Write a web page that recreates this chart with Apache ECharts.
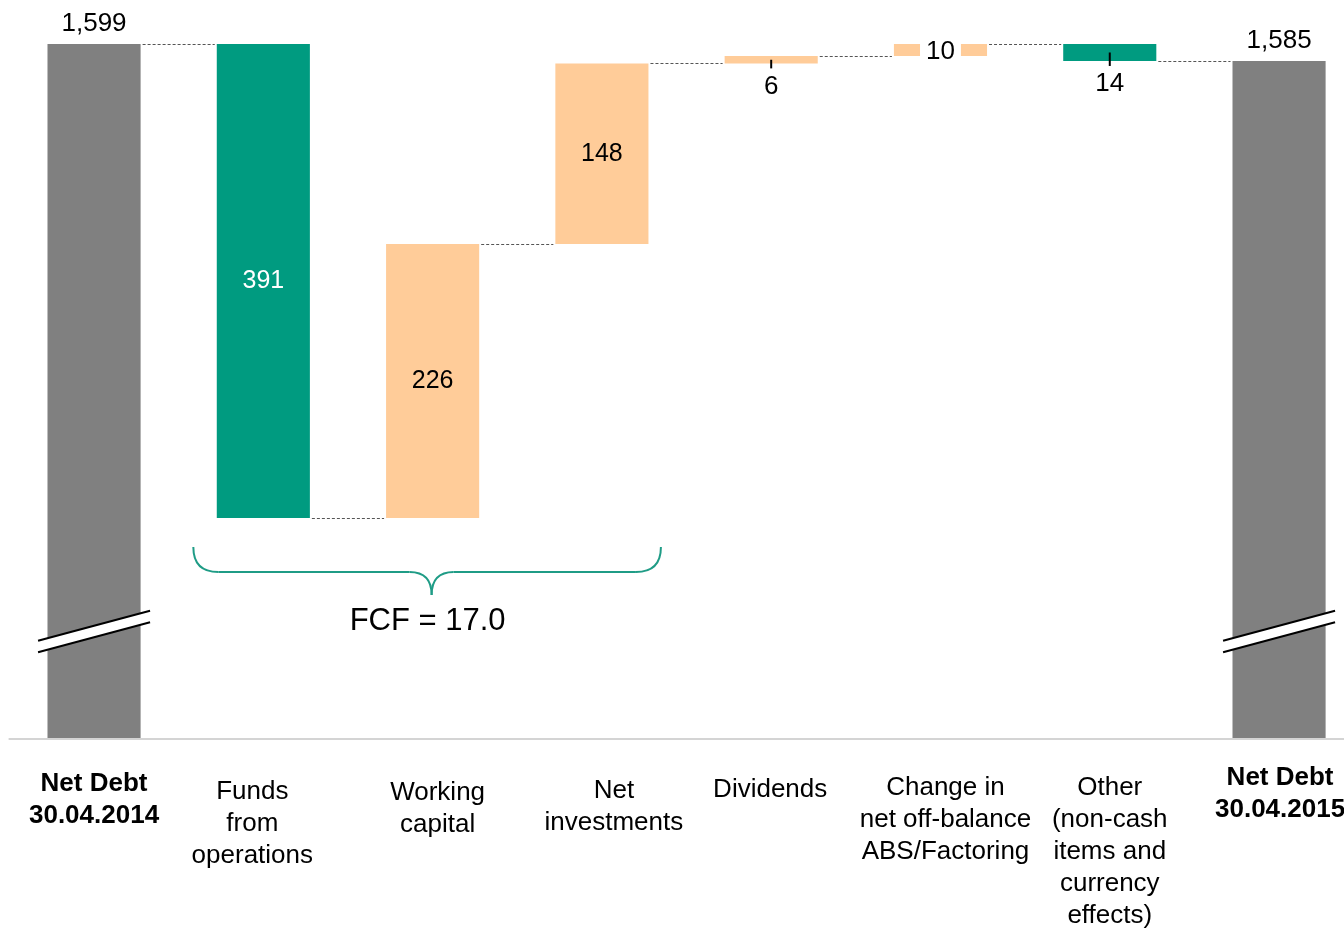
<!DOCTYPE html>
<html>
<head>
<meta charset="utf-8">
<script src="https://cdn.jsdelivr.net/npm/echarts@6/dist/echarts.min.js"></script>
<style>
html,body{margin:0;padding:0;background:#fff;}
#chart{width:1344px;height:928px;}
</style>
</head>
<body>
<div id="chart"></div>
<script>
// ---- data ----
const categories = [
  'Net Debt\n30.04.2014',
  'Funds\nfrom\noperations',
  'Working\ncapital',
  'Net\ninvestments',
  'Dividends',
  'Change in\nnet off-balance\nABS/Factoring',
  'Other\n(non-cash\nitems and\ncurrency\neffects)',
  'Net Debt\n30.04.2015'
];
// start / end level of each bar (null start = total bar from the axis base)
const barStart = [null, 1599, 1208, 1434, 1583, 1589, 1599, null];
const barEnd   = [1599, 1208, 1434, 1583, 1589, 1599, 1585, 1585];
const valueLabels = ['1,599', '391', '226', '148', '6', '10', '14', '1,585'];
const barKinds = ['total', 'decrease', 'increase', 'increase', 'increase', 'increase', 'decrease', 'total'];
const fcfLabel = 'FCF = 17.0';

// ---- layout / style ----
const Y_MIN = 1025.7, Y_MAX = 1599;
const FONT = '"Liberation Sans", Arial, Helvetica, sans-serif';
const colors = { total: '#808080', decrease: '#009B80', increase: '#FFCC99' };
const labelModes = ['above', 'inside', 'inside', 'inside', 'below', 'box', 'below', 'above'];
const boldCats = [true, false, false, false, false, false, false, true];
const labelSpacers = [19, 27, 28, 26, 25, 23, 23, 13];
const labelShiftX = [0, -11, 5, 12, -1, 5, 0, 1];

const rich = {};
categories.forEach((c, i) => {
  rich['s' + i] = { fontSize: 4, lineHeight: labelSpacers[i], fontFamily: FONT, color: 'rgba(0,0,0,0)' };
  const sh = labelShiftX[i];
  rich['t' + i] = {
    fontSize: 26, lineHeight: 32, fontFamily: FONT, color: '#000',
    fontWeight: boldCats[i] ? 'bold' : 'normal',
    padding: [0, sh < 0 ? -2 * sh : 0, 0, sh > 0 ? 2 * sh : 0]
  };
});

const seriesData = categories.map((c, i) => [i, barStart[i] === null ? Y_MIN : barStart[i], barEnd[i]]);

function renderItem(params, api) {
  const i = params.dataIndex;
  const x = api.value(0), a = api.value(1), b = api.value(2);
  const w = api.size([1, 0])[0] * 0.55;
  const pTop = api.coord([x, Math.max(a, b)]);
  const pBot = api.coord([x, Math.min(a, b)]);
  const cx = pTop[0];
  const kind = barKinds[i];
  const children = [];
  children.push({
    type: 'rect',
    shape: { x: cx - w / 2, y: pTop[1], width: w, height: pBot[1] - pTop[1] },
    style: { fill: colors[kind] }
  });
  if (kind === 'total') {
    const yc = pBot[1] - 107.5, hl = 56, dy = 15, th = 5.8;
    children.push({
      type: 'polygon',
      shape: { points: [[cx - hl, yc + dy - th], [cx + hl, yc - dy - th], [cx + hl, yc - dy + th], [cx - hl, yc + dy + th]] },
      style: { fill: '#fff' }
    });
    children.push({ type: 'line', shape: { x1: cx - hl, y1: yc + dy - th, x2: cx + hl, y2: yc - dy - th }, style: { stroke: '#000', lineWidth: 2 } });
    children.push({ type: 'line', shape: { x1: cx - hl, y1: yc + dy + th, x2: cx + hl, y2: yc - dy + th }, style: { stroke: '#000', lineWidth: 2 } });
  }
  // connector to next bar
  if (i < categories.length - 1) {
    const pE = api.coord([x, barEnd[i]]);
    const pN = api.coord([x + 1, barEnd[i]]);
    const yy = Math.round(pE[1]) + 0.5;
    children.push({
      type: 'line',
      shape: { x1: pE[0] + w / 2 + 2, y1: yy, x2: pN[0] - w / 2 - 2, y2: yy },
      style: { stroke: '#555', lineWidth: 1, lineDash: [3, 2] }
    });
  }
  const mode = labelModes[i];
  const tStyle = { text: valueLabels[i], fontSize: 26, fontFamily: FONT, fill: '#000', align: 'center', verticalAlign: 'middle' };
  if (mode === 'above') {
    tStyle.x = cx; tStyle.y = pTop[1] - 20;
  } else if (mode === 'inside') {
    tStyle.x = cx; tStyle.y = (pTop[1] + pBot[1]) / 2;
    tStyle.fontSize = 25;
    if (kind === 'decrease') tStyle.fill = '#fff';
  } else if (mode === 'below') {
    const ym = (pTop[1] + pBot[1]) / 2;
    children.push({ type: 'line', shape: { x1: cx, y1: ym, x2: cx, y2: pBot[1] + 5 }, style: { stroke: '#000', lineWidth: 2 } });
    tStyle.x = cx; tStyle.y = pBot[1] + 23;
  } else if (mode === 'box') {
    tStyle.x = cx; tStyle.y = (pTop[1] + pBot[1]) / 2 + 2;
    tStyle.backgroundColor = '#fff';
    tStyle.padding = [2, 6];
  }
  children.push({ type: 'text', style: tStyle, z2: 10 });
  return { type: 'group', children: children };
}

const chart = echarts.init(document.getElementById('chart'), null, { renderer: 'canvas' });
chart.setOption({
  animation: false,
  backgroundColor: '#fff',
  grid: { left: 9.4, width: 1354.3, top: 44, height: 695, containLabel: false, outerBoundsMode: 'none' },
  xAxis: {
    type: 'category',
    data: categories,
    boundaryGap: true,
    axisTick: { show: false },
    axisLine: { show: true, lineStyle: { color: '#d4d4d4', width: 2 } },
    axisLabel: {
      interval: 0,
      margin: 10,
      verticalAlign: 'top',
      hideOverlap: false,
      formatter: function (value, idx) {
        const lines = value.split('\n');
        return '{s' + idx + '| }\n' + lines.map(l => '{t' + idx + '|' + l + '}').join('\n');
      },
      rich: rich
    },
    z: 5
  },
  yAxis: {
    type: 'value',
    min: Y_MIN,
    max: Y_MAX,
    show: false,
    splitLine: { show: false }
  },
  series: [{
    type: 'custom',
    renderItem: renderItem,
    encode: { x: 0, y: [1, 2] },
    data: seriesData,
    clip: false,
    z: 2
  }]
});

// FCF brace annotation positioned from the axes
const p1 = chart.convertToPixel({ gridIndex: 0 }, [1, barEnd[1]]);
const p3 = chart.convertToPixel({ gridIndex: 0 }, [3, barEnd[3]]);
const xL = p1[0] - 70, xR = p3[0] + 59;
const yTop = p1[1] + 29, yMid = yTop + 25, yTip = yTop + 48;
const tip = (p1[0] + p3[0]) / 2 - 1;
const braceStyle = { stroke: '#1F9C86', lineWidth: 2, fill: null };
chart.setOption({
  graphic: [
    { type: 'bezierCurve', shape: { x1: xL, y1: yTop, cpx1: xL, cpy1: yMid, x2: xL + 25, y2: yMid }, style: braceStyle },
    { type: 'line', shape: { x1: xL + 25, y1: yMid, x2: tip - 22, y2: yMid }, style: braceStyle },
    { type: 'bezierCurve', shape: { x1: tip - 22, y1: yMid, cpx1: tip, cpy1: yMid, x2: tip, y2: yTip }, style: braceStyle },
    { type: 'bezierCurve', shape: { x1: tip, y1: yTip, cpx1: tip, cpy1: yMid, x2: tip + 22, y2: yMid }, style: braceStyle },
    { type: 'line', shape: { x1: tip + 22, y1: yMid, x2: xR - 25, y2: yMid }, style: braceStyle },
    { type: 'bezierCurve', shape: { x1: xR - 25, y1: yMid, cpx1: xR, cpy1: yMid, x2: xR, y2: yTop }, style: braceStyle },
    { type: 'text', x: tip - 4, y: yTip + 26, style: { text: fcfLabel, fontSize: 31, fontFamily: FONT, fill: '#000', align: 'center', verticalAlign: 'middle' } }
  ]
});
</script>
</body>
</html>
